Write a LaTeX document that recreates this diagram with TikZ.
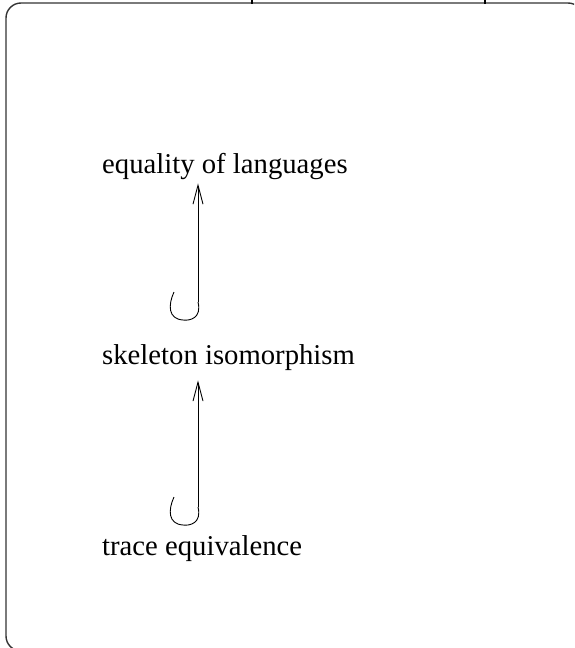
\documentclass[tikz,border=0pt]{standalone}
\usepackage{fontspec}
\setmainfont{Liberation Serif}
\usetikzlibrary{arrows.meta}

\tikzset{
  lbl/.style={anchor=base west, inner sep=0pt, font=\fontsize{28.7}{34}\selectfont},
  upto/.style={-{Straight Barb[length=19pt,width=10pt]}, line width=0.9pt},
  hookline/.style={line width=0.9pt}
}

\begin{document}
\begin{tikzpicture}[x=1pt,y=-1pt]
    % Rahmen (abgeschnitten)
    \useasboundingbox (0,0) rectangle (574,648);
    \clip (0,0) rectangle (574,648);
    \draw[line width=1.4pt, rounded corners=15pt, black!80] (6,3) rectangle (583,651);
    \draw[line width=1.6pt] (252,0) -- (252,4);
    \draw[line width=1.6pt] (485,0) -- (485,4);

    % Begriffe
    \node[lbl] (lang) at (102,173) {equality of languages};
    \node[lbl] (skel) at (102,364) {skeleton isomorphism};
    \node[lbl] (trace) at (102,555) {trace equivalence};

    % Hakenpfeile
    \coordinate (t1) at (198,302);
    \coordinate (t2) at (198,507);
    \draw[upto] (t1) -- ([yshift=-4pt]t1 |- lang.south);
    \draw[upto] (t2) -- ([yshift=-10pt]t2 |- skel.south);
    \draw[hookline] (t1) .. controls ([shift={(4,16)}]t1) and ([shift={(-8,19)}]t1) .. ([shift={(-15,18)}]t1)
        .. controls ([shift={(-30,17)}]t1) and ([shift={(-30,3)}]t1) .. ([shift={(-24,-10)}]t1);
    \draw[hookline] (t2) .. controls ([shift={(4,16)}]t2) and ([shift={(-8,19)}]t2) .. ([shift={(-15,18)}]t2)
        .. controls ([shift={(-30,17)}]t2) and ([shift={(-30,3)}]t2) .. ([shift={(-24,-10)}]t2);
\end{tikzpicture}
\end{document}
